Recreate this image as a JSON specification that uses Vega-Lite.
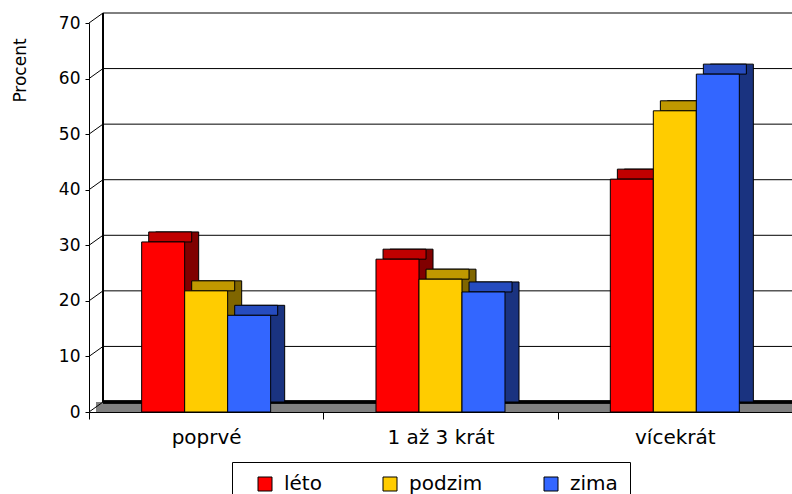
{
  "$schema": "https://vega.github.io/schema/vega-lite/v6.json",
  "width": 703,
  "height": 389,
  "autosize": {"type": "none"},
  "padding": {"left": 89, "top": 23, "right": 0, "bottom": 82},
  "background": "white",
  "config": {
    "view": {"stroke": null},
    "font": "DejaVu Sans",
    "axisX": {"labelAngle": 0, "labelFontSize": 20, "labelColor": "black", "tickBand": "extent", "tickSize": 7, "tickColor": "black", "domainColor": "black", "labelPadding": 8, "grid": false, "title": null},
    "axisY": {"labelFontSize": 17, "labelColor": "black", "tickSize": 4, "tickColor": "black", "domainColor": "black", "labelPadding": 5, "grid": false, "titleFontSize": 17, "titleFontWeight": "normal", "titleColor": "black"}
  },
  "datasets": {
    "bars": [
      {"cat": "poprvé", "season": "léto", "value": 30.6},
      {"cat": "poprvé", "season": "podzim", "value": 21.8},
      {"cat": "poprvé", "season": "zima", "value": 17.4},
      {"cat": "1 až 3 krát", "season": "léto", "value": 27.5},
      {"cat": "1 až 3 krát", "season": "podzim", "value": 23.9},
      {"cat": "1 až 3 krát", "season": "zima", "value": 21.6},
      {"cat": "vícekrát", "season": "léto", "value": 41.9},
      {"cat": "vícekrát", "season": "podzim", "value": 54.2},
      {"cat": "vícekrát", "season": "zima", "value": 60.8}
    ],
    "grid": [{"v": 0}, {"v": 10}, {"v": 20}, {"v": 30}, {"v": 40}, {"v": 50}, {"v": 60}, {"v": 70}]
  },
  "resolve": {"scale": {"color": "independent", "xOffset": "independent"}},
  "layer": [
    {
      "data": {"name": "grid"},
      "mark": {"type": "rule", "color": "#808080", "strokeWidth": 10, "yOffset": -5, "xOffset": 7, "x2Offset": 7},
      "encoding": {
        "x": {"datum": "poprvé", "type": "nominal", "bandPosition": 0, "scale": {"domain": ["poprvé", "1 až 3 krát", "vícekrát"], "paddingInner": 0, "paddingOuter": 0}},
        "x2": {"datum": "vícekrát", "bandPosition": 1},
        "y": {"datum": 0, "type": "quantitative", "scale": {"domain": [0, 70], "nice": false}}
      }
    },
    {
      "data": {"name": "grid"},
      "mark": {"type": "rule", "color": "black", "strokeWidth": 1, "xOffset": 14, "x2Offset": 14, "yOffset": -10},
      "encoding": {
        "x": {"datum": "poprvé", "type": "nominal", "bandPosition": 0},
        "x2": {"datum": "vícekrát", "bandPosition": 1},
        "y": {"field": "v", "type": "quantitative", "scale": {"domain": [0, 70], "nice": false}, "axis": {"values": [0, 10, 20, 30, 40, 50, 60, 70], "title": "Procent", "titleX": -64, "titleY": 47, "titleAlign": "center", "titleBaseline": "alphabetic", "titleAngle": -90}}
      }
    },
    {
      "data": {"name": "grid"},
      "mark": {"type": "rule", "color": "black", "strokeWidth": 2.5, "xOffset": 14, "x2Offset": 14, "yOffset": -10},
      "encoding": {
        "x": {"datum": "poprvé", "type": "nominal", "bandPosition": 0},
        "x2": {"datum": "vícekrát", "bandPosition": 1},
        "y": {"datum": 0, "type": "quantitative"}
      }
    },
    {
      "data": {"name": "grid"},
      "mark": {"type": "rule", "color": "black", "strokeWidth": 1, "xOffset": 14, "yOffset": -10, "y2Offset": -10},
      "encoding": {
        "x": {"datum": "poprvé", "type": "nominal", "bandPosition": 0},
        "y": {"datum": 0, "type": "quantitative"},
        "y2": {"datum": 70}
      }
    },
    {
      "data": {"name": "grid"},
      "mark": {"type": "rule", "color": "black", "strokeWidth": 1, "x2Offset": 14, "y2Offset": -10},
      "encoding": {
        "x": {"datum": "poprvé", "type": "nominal", "bandPosition": 0},
        "x2": {"datum": "poprvé", "bandPosition": 0},
        "y": {"field": "v", "type": "quantitative"},
        "y2": {"field": "v"}
      }
    },
    {
      "data": {"name": "bars"},
      "mark": {"type": "bar", "stroke": "black", "strokeWidth": 1, "yOffset": -10, "y2Offset": -10},
      "encoding": {
        "x": {"field": "cat", "type": "nominal", "sort": ["poprvé", "1 až 3 krát", "vícekrát"]},
        "xOffset": {"field": "season", "type": "nominal", "scale": {"domain": ["_pad", "léto", "podzim", "zima"], "paddingInner": 0, "paddingOuter": 0.725, "align": 0.38}},
        "y": {"field": "value", "type": "quantitative"},
        "color": {"field": "season", "type": "nominal", "sort": ["léto", "podzim", "zima"], "scale": {"range": ["#800000", "#806600", "#1A3380"]}, "legend": null}
      }
    },
    {
      "data": {"name": "bars"},
      "mark": {"type": "bar", "stroke": "black", "strokeWidth": 1, "yOffset": -10},
      "encoding": {
        "x": {"field": "cat", "type": "nominal", "sort": ["poprvé", "1 až 3 krát", "vícekrát"]},
        "xOffset": {"field": "season", "type": "nominal", "scale": {"domain": ["_pad", "léto", "podzim", "zima"], "paddingInner": 0, "paddingOuter": 0.725, "align": 0.268}},
        "y": {"field": "value", "type": "quantitative"},
        "y2": {"field": "value"},
        "color": {"field": "season", "type": "nominal", "sort": ["léto", "podzim", "zima"], "scale": {"range": ["#C00000", "#C09900", "#264CBF"]}, "legend": null}
      }
    },
    {
      "data": {"name": "bars"},
      "mark": {"type": "bar", "stroke": "black", "strokeWidth": 1},
      "encoding": {
        "x": {"field": "cat", "type": "nominal", "sort": ["poprvé", "1 až 3 krát", "vícekrát"]},
        "xOffset": {"field": "season", "type": "nominal", "scale": {"domain": ["_pad", "léto", "podzim", "zima"], "paddingInner": 0, "paddingOuter": 0.725, "align": 0.155}},
        "y": {"field": "value", "type": "quantitative"},
        "color": {"field": "season", "type": "nominal", "sort": ["léto", "podzim", "zima"], "scale": {"range": ["#FF0000", "#FFCC00", "#3366FF"]},
          "legend": {"title": null, "orient": "none", "legendX": 143, "legendY": 439, "direction": "horizontal", "columns": 3, "columnPadding": 47, "symbolType": "square", "symbolSize": 196, "symbolStrokeColor": "black", "symbolStrokeWidth": 1, "symbolOpacity": 1, "labelFontSize": 20, "labelColor": "black", "labelOffset": 9, "padding": 12, "symbolOffset": 11, "strokeColor": "black", "fillColor": "white", "cornerRadius": 0}}
      }
    }
  ]
}
